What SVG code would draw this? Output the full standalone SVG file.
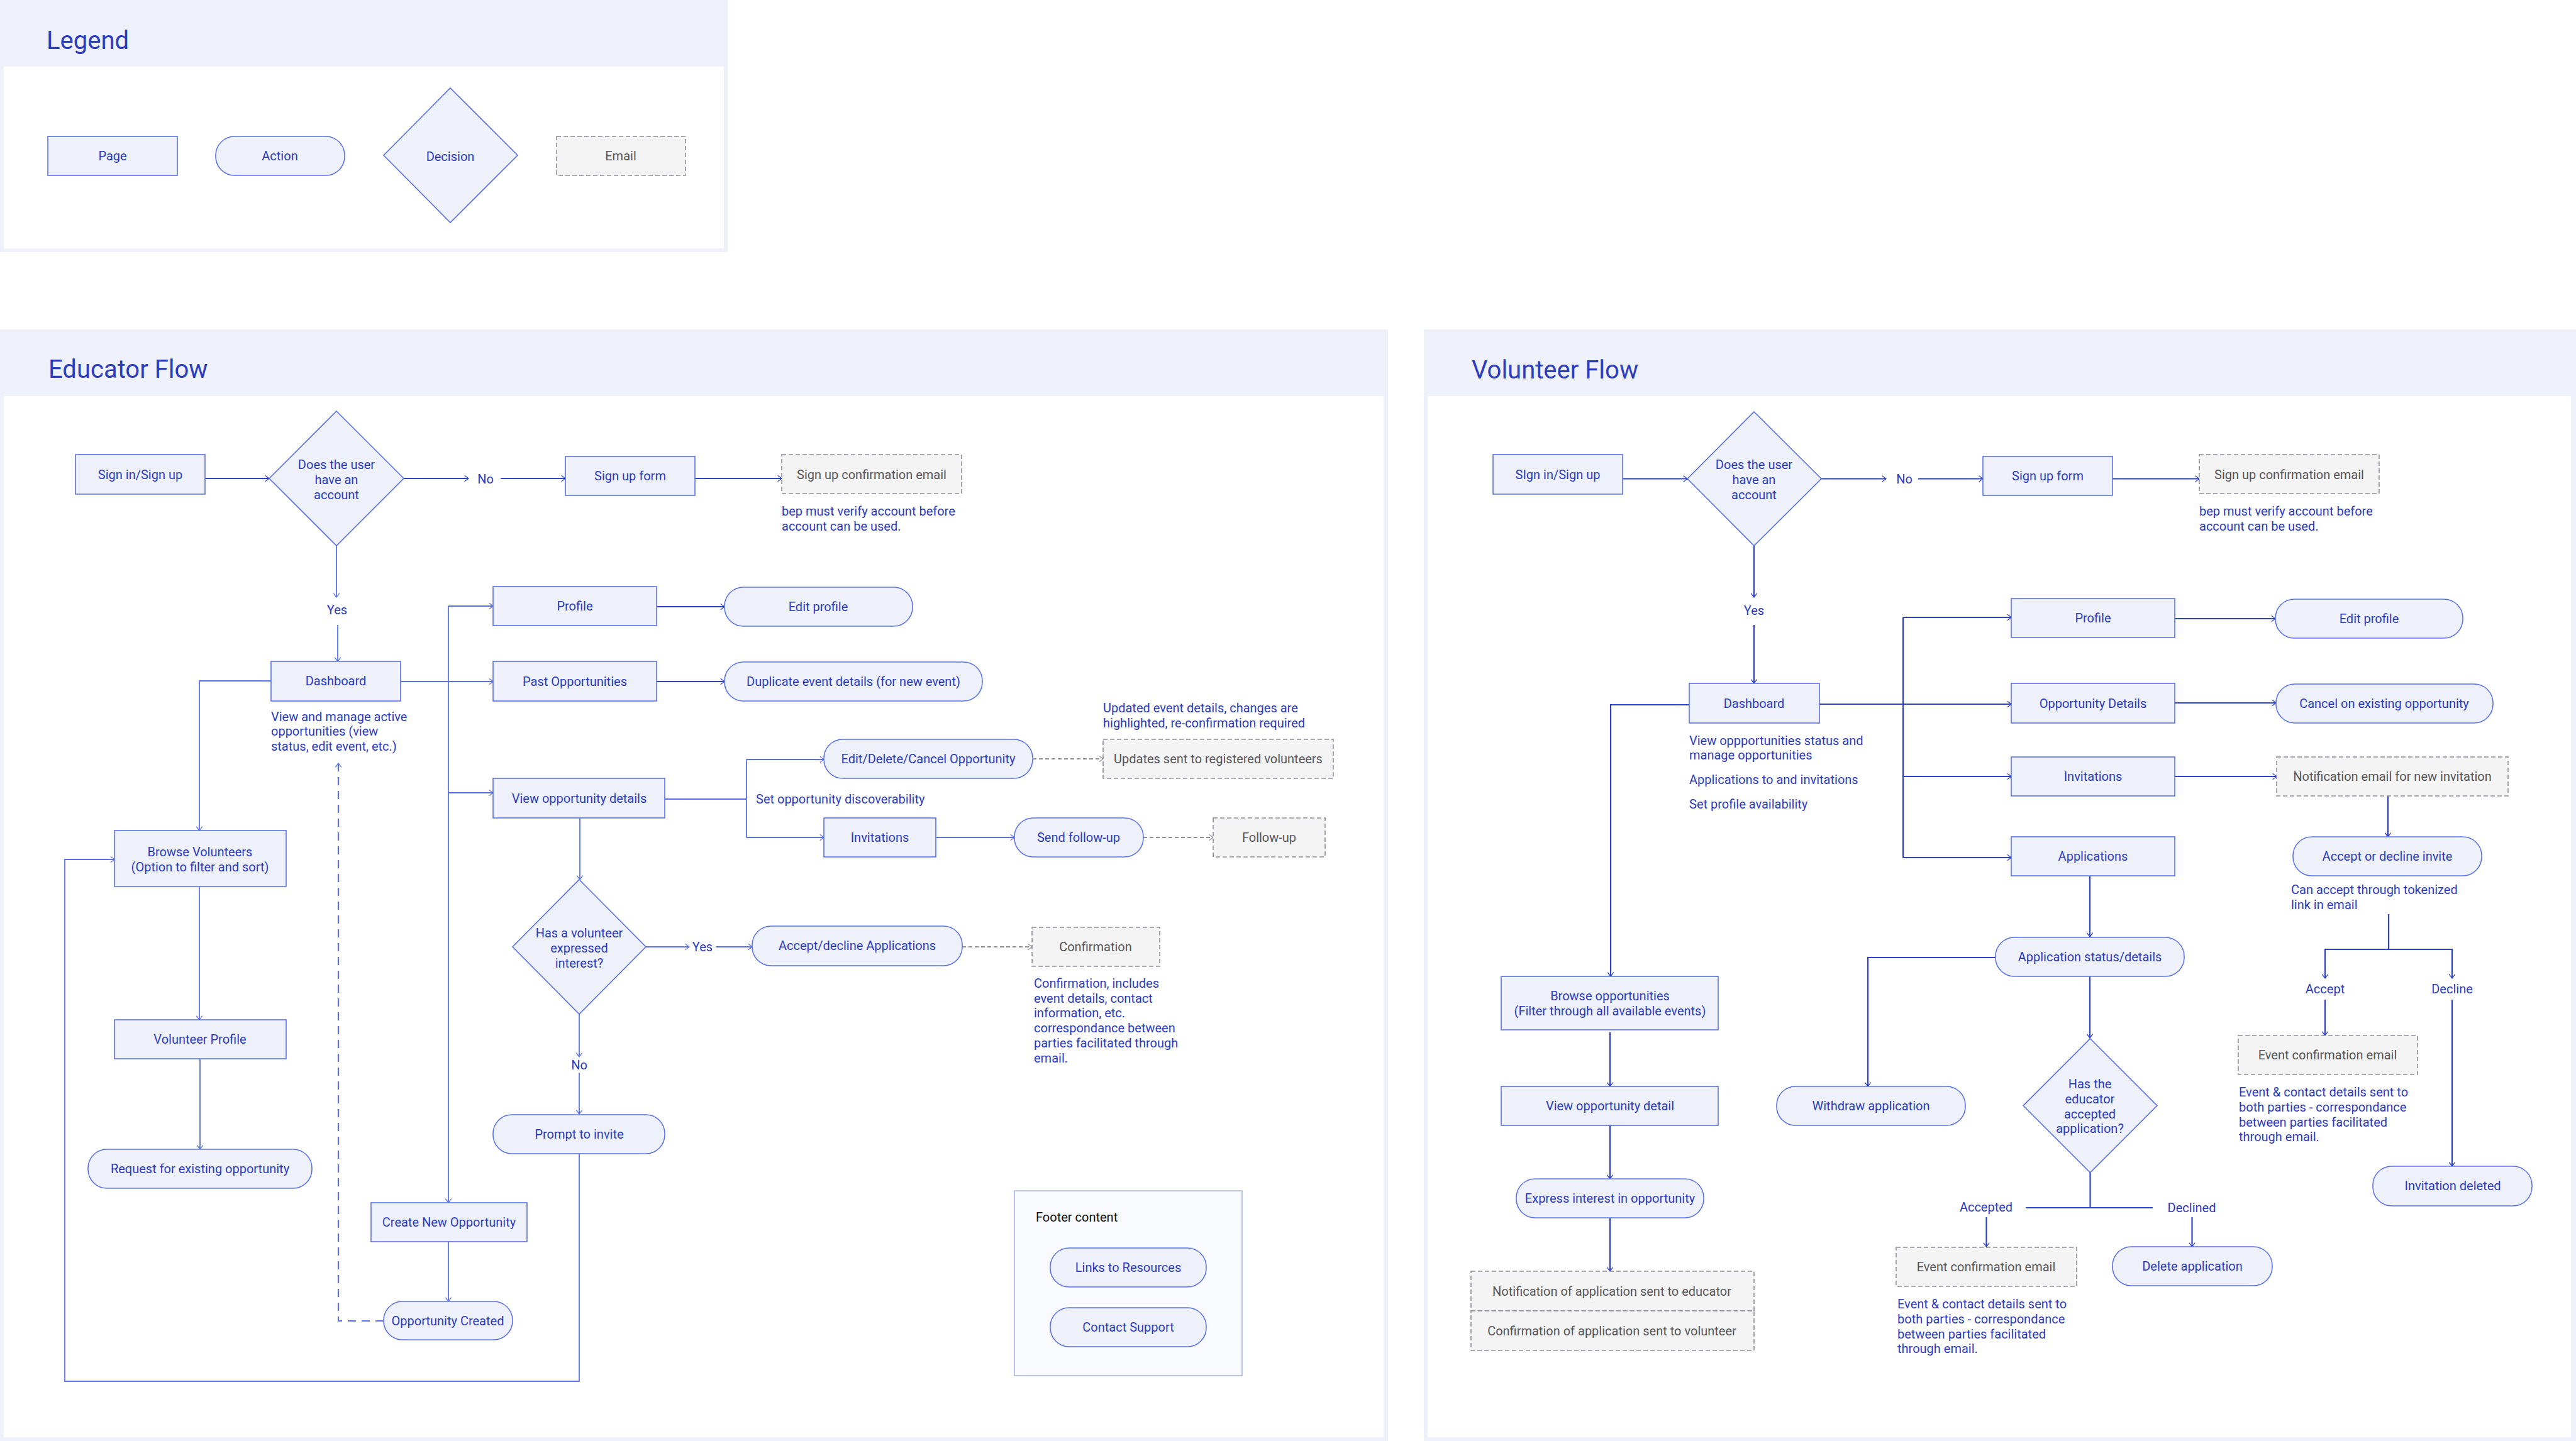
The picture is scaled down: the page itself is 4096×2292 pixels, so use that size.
<svg xmlns="http://www.w3.org/2000/svg" width="4096" height="2292" viewBox="0 0 4096 2292">
<style>
.bg{fill:#EEF1FA}
.in{fill:#FFFFFF}
.pg{fill:#EEF1FA;stroke:#5A72E6;stroke-width:1.6}
.ac{fill:#EEF1FA;stroke:#5A72E6;stroke-width:1.6}
.em{fill:#F4F4F5;stroke:#8E8E99;stroke-width:1.6;stroke-dasharray:7 4}
.ft{fill:#F9FAFE;stroke:#A8B6DF;stroke-width:1.6}
text{font-family:Roboto,"Liberation Sans",sans-serif;font-size:20px;fill:#2B3BC0}
.t{text-anchor:middle;dominant-baseline:central}
.g{fill:#555558}
.k{fill:#111111}
.h{font-size:40px;fill:#2C3CBE}
.c{fill:none;stroke:#5A70E6;stroke-width:1.8}
.cd{fill:none;stroke:#2F41C6;stroke-width:2.2}
.cg{fill:none;stroke:#8E8E99;stroke-width:1.8;stroke-dasharray:6 4}
.cb{fill:none;stroke:#5A70E6;stroke-width:2.2;stroke-dasharray:13 9}
</style>
<defs>
<marker id="al" viewBox="0 0 10 14" markerWidth="8" markerHeight="11" refX="9" refY="7" orient="auto" markerUnits="userSpaceOnUse"><path d="M1,1 L9,7 L1,13" fill="none" stroke="#5A70E6" stroke-width="1.6"/></marker>
<marker id="ad" viewBox="0 0 10 14" markerWidth="8" markerHeight="11" refX="9" refY="7" orient="auto" markerUnits="userSpaceOnUse"><path d="M1,1 L9,7 L1,13" fill="none" stroke="#2F41C6" stroke-width="1.6"/></marker>
<marker id="ag" viewBox="0 0 10 14" markerWidth="8" markerHeight="11" refX="9" refY="7" orient="auto" markerUnits="userSpaceOnUse"><path d="M1,1 L9,7 L1,13" fill="none" stroke="#8E8E99" stroke-width="1.6"/></marker>
</defs>

<!-- Panels -->
<g id="legend-panel">
<rect class="bg" x="0" y="0" width="1157" height="401"/>
<rect class="in" x="6" y="106" width="1145" height="289"/>
<text class="h" x="74" y="78">Legend</text>
</g>
<g id="educator-panel">
<rect class="bg" x="0" y="524" width="2207" height="1768"/>
<rect class="in" x="6" y="630" width="2194" height="1656"/>
<text class="h" x="77" y="601">Educator Flow</text>
</g>
<g id="volunteer-panel">
<rect class="bg" x="2264" y="524" width="1832" height="1768"/>
<rect class="in" x="2270" y="630" width="1818" height="1656"/>
<text class="h" x="2340" y="602">Volunteer Flow</text>
</g>

<!-- Legend -->
<g id="legend-page"><rect class="pg" x="76" y="217" width="206" height="62"/><text class="t" x="179" y="248">Page</text></g>
<g id="legend-action"><rect class="ac" x="343" y="217" width="205" height="62" rx="30"/><text class="t" x="445" y="248">Action</text></g>
<g id="legend-decision"><polygon class="pg" points="716,140 823,247 716,354 610,247"/><text class="t" x="716" y="249">Decision</text></g>
<g id="legend-email"><rect class="em" x="885" y="217" width="205" height="62"/><text class="t g" x="987" y="248">Email</text></g>

<!-- Connectors -->
<g id="connectors">
<!-- educator -->
<path class="cd" d="M326,761 H428" marker-end="url(#ad)"/>
<path class="cd" d="M642,761 H745" marker-end="url(#ad)"/>
<path class="cd" d="M796,761 H899" marker-end="url(#ad)"/>
<path class="cd" d="M1105,761 H1243" marker-end="url(#ad)"/>
<path class="c" d="M535,868 V950" marker-end="url(#al)"/>
<path class="c" d="M537,994 V1052" marker-end="url(#al)"/>
<path class="c" d="M637,1084 H784" marker-end="url(#al)"/>
<path class="c" d="M713,964 V1913" marker-end="url(#al)"/>
<path class="c" d="M713,964 H784" marker-end="url(#al)"/>
<path class="c" d="M713,1261 H784" marker-end="url(#al)"/>
<path class="cd" d="M1044,965 H1152" marker-end="url(#ad)"/>
<path class="cd" d="M1044,1084 H1152" marker-end="url(#ad)"/>
<path class="c" d="M1057,1271 H1187"/>
<path class="c" d="M1187,1208 V1332"/>
<path class="c" d="M1187,1208 H1310" marker-end="url(#al)"/>
<path class="c" d="M1187,1332 H1310" marker-end="url(#al)"/>
<path class="cg" d="M1642,1207 H1754" marker-end="url(#ag)"/>
<path class="c" d="M1488,1332 H1613" marker-end="url(#al)"/>
<path class="cg" d="M1818,1332 H1929" marker-end="url(#ag)"/>
<path class="c" d="M922,1301 V1399" marker-end="url(#al)"/>
<path class="c" d="M1027,1506 H1096" marker-end="url(#al)"/>
<path class="c" d="M1138,1506 H1196" marker-end="url(#al)"/>
<path class="cg" d="M1530,1506 H1641" marker-end="url(#ag)"/>
<path class="c" d="M921,1613 V1681" marker-end="url(#al)"/>
<path class="c" d="M921,1706 V1772" marker-end="url(#al)"/>
<path class="c" d="M921,1835 V2197 H103 V1367 H182" marker-end="url(#al)"/>
<path class="c" d="M431,1083 H317 V1321" marker-end="url(#al)"/>
<path class="c" d="M317,1410 V1622" marker-end="url(#al)"/>
<path class="c" d="M318,1684 V1828" marker-end="url(#al)"/>
<path class="c" d="M713,1975 V2070" marker-end="url(#al)"/>
<path class="cb" d="M610,2101 H538 V1214" marker-end="url(#al)"/>
<!-- volunteer -->
<path class="cd" d="M2580,761.5 H2683" marker-end="url(#ad)"/>
<path class="cd" d="M2896,761.5 H2999" marker-end="url(#ad)"/>
<path class="cd" d="M3050,761.5 H3153" marker-end="url(#ad)"/>
<path class="cd" d="M3359,761.5 H3497" marker-end="url(#ad)"/>
<path class="cd" d="M2789,868 V950" marker-end="url(#ad)"/>
<path class="cd" d="M2789,994 V1087" marker-end="url(#ad)"/>
<path class="cd" d="M2893,1120 H3198" marker-end="url(#ad)"/>
<path class="cd" d="M3026,982 V1364"/>
<path class="cd" d="M3026,982 H3198" marker-end="url(#ad)"/>
<path class="cd" d="M3026,1235 H3198" marker-end="url(#ad)"/>
<path class="cd" d="M3026,1364 H3198" marker-end="url(#ad)"/>
<path class="cd" d="M3458,984 H3618" marker-end="url(#ad)"/>
<path class="cd" d="M3458,1118 H3619" marker-end="url(#ad)"/>
<path class="cd" d="M3458,1235 H3620" marker-end="url(#ad)"/>
<path class="cd" d="M3797,1266 V1331" marker-end="url(#ad)"/>
<path class="cd" d="M3323,1393 V1490" marker-end="url(#ad)"/>
<path class="cd" d="M3323,1553 V1651" marker-end="url(#ad)"/>
<path class="cd" d="M3173,1523 H2970 V1728" marker-end="url(#ad)"/>
<path class="cd" d="M3323.5,1865 V1921"/>
<path class="cd" d="M3221,1921 H3423"/>
<path class="cd" d="M3158.5,1936 V1983" marker-end="url(#ad)"/>
<path class="cd" d="M3485.5,1936 V1983" marker-end="url(#ad)"/>
<path class="cd" d="M3798,1454 V1510"/>
<path class="cd" d="M3798,1510 H3697 V1556" marker-end="url(#ad)"/>
<path class="cd" d="M3798,1510 H3899 V1556" marker-end="url(#ad)"/>
<path class="cd" d="M3697,1590 V1647" marker-end="url(#ad)"/>
<path class="cd" d="M3899,1590 V1855" marker-end="url(#ad)"/>
<path class="cd" d="M2686,1121 H2561 V1553" marker-end="url(#ad)"/>
<path class="cd" d="M2560,1642 V1728" marker-end="url(#ad)"/>
<path class="cd" d="M2560,1790 V1875" marker-end="url(#ad)"/>
<path class="cd" d="M2560,1937 V2022" marker-end="url(#ad)"/>
</g>

<!-- Educator nodes -->
<g id="e-signin"><rect class="pg" x="120" y="723" width="206" height="63"/><text class="t" x="223" y="755">Sign in/Sign up</text></g>
<g id="e-hasaccount"><polygon class="pg" points="535,654 642,761 535,868 428,761"/><text class="t" x="535" y="739">Does the user</text><text class="t" x="535" y="763">have an</text><text class="t" x="535" y="787">account</text></g>
<g id="e-no"><text class="t" x="772" y="762">No</text></g>
<g id="e-signupform"><rect class="pg" x="899" y="726" width="206" height="62"/><text class="t" x="1002" y="757">Sign up form</text></g>
<g id="e-signupemail"><rect class="em" x="1243" y="723" width="286" height="62"/><text class="t g" x="1386" y="755">Sign up confirmation email</text></g>
<g id="e-verifynote"><text x="1243" y="820">bep must verify account before</text><text x="1243" y="844">account can be used.</text></g>
<g id="e-yes"><text class="t" x="536" y="970">Yes</text></g>
<g id="e-dashboard"><rect class="pg" x="431" y="1052" width="206" height="63"/><text class="t" x="534" y="1083">Dashboard</text></g>
<g id="e-dashnote"><text x="431" y="1147">View and manage active</text><text x="431" y="1170">opportunities (view</text><text x="431" y="1194">status, edit event, etc.)</text></g>
<g id="e-profile"><rect class="pg" x="784" y="933" width="260" height="62"/><text class="t" x="914" y="964">Profile</text></g>
<g id="e-pastopp"><rect class="pg" x="784" y="1052" width="260" height="63"/><text class="t" x="914" y="1084">Past Opportunities</text></g>
<g id="e-editprofile"><rect class="ac" x="1152" y="934" width="299" height="62" rx="30"/><text class="t" x="1301" y="965">Edit profile</text></g>
<g id="e-duplicate"><rect class="ac" x="1152" y="1053" width="410" height="62" rx="30"/><text class="t" x="1357" y="1084">Duplicate event details (for new event)</text></g>
<g id="e-updatednote"><text x="1754" y="1133">Updated event details, changes are</text><text x="1754" y="1157">highlighted, re-confirmation required</text></g>
<g id="e-editdelete"><rect class="ac" x="1310" y="1176" width="332" height="62" rx="30"/><text class="t" x="1476" y="1207">Edit/Delete/Cancel Opportunity</text></g>
<g id="e-updates"><rect class="em" x="1754" y="1176" width="366" height="62"/><text class="t g" x="1937" y="1207">Updates sent to registered volunteers</text></g>
<g id="e-viewopp"><rect class="pg" x="784" y="1238" width="273" height="63"/><text class="t" x="921" y="1270">View opportunity details</text></g>
<g id="e-discover"><text x="1202" y="1271" dominant-baseline="central">Set opportunity discoverability</text></g>
<g id="e-invitations"><rect class="pg" x="1310" y="1301" width="178" height="62"/><text class="t" x="1399" y="1332">Invitations</text></g>
<g id="e-sendfollow"><rect class="ac" x="1613" y="1301" width="205" height="62" rx="30"/><text class="t" x="1715" y="1332">Send follow-up</text></g>
<g id="e-followup"><rect class="em" x="1929" y="1301" width="178" height="62"/><text class="t g" x="2018" y="1332">Follow-up</text></g>
<g id="e-interest"><polygon class="pg" points="921,1399 1027,1506 921,1613 815,1506"/><text class="t" x="921" y="1484">Has a volunteer</text><text class="t" x="921" y="1508">expressed</text><text class="t" x="921" y="1532">interest?</text></g>
<g id="e-yes2"><text class="t" x="1117" y="1506">Yes</text></g>
<g id="e-acceptdecline"><rect class="ac" x="1196" y="1473" width="334" height="63" rx="30"/><text class="t" x="1363" y="1504">Accept/decline Applications</text></g>
<g id="e-confirmation"><rect class="em" x="1641" y="1475" width="203" height="62"/><text class="t g" x="1742" y="1506">Confirmation</text></g>
<g id="e-confnote"><text x="1644" y="1571">Confirmation, includes</text><text x="1644" y="1595">event details, contact</text><text x="1644" y="1618">information, etc.</text><text x="1644" y="1642">correspondance between</text><text x="1644" y="1666">parties facilitated through</text><text x="1644" y="1690">email.</text></g>
<g id="e-no2"><text class="t" x="921" y="1694">No</text></g>
<g id="e-prompt"><rect class="ac" x="784" y="1773" width="273" height="62" rx="30"/><text class="t" x="921" y="1804">Prompt to invite</text></g>
<g id="e-browsevol"><rect class="pg" x="182" y="1321" width="273" height="89"/><text class="t" x="318" y="1355">Browse Volunteers</text><text class="t" x="318" y="1379">(Option to filter and sort)</text></g>
<g id="e-volprofile"><rect class="pg" x="182" y="1622" width="273" height="62"/><text class="t" x="318" y="1653">Volunteer Profile</text></g>
<g id="e-request"><rect class="ac" x="140" y="1828" width="356" height="62" rx="30"/><text class="t" x="318" y="1859">Request for existing opportunity</text></g>
<g id="e-createnew"><rect class="pg" x="590" y="1913" width="248" height="62"/><text class="t" x="714" y="1944">Create New Opportunity</text></g>
<g id="e-oppcreated"><rect class="ac" x="610" y="2070" width="205" height="61" rx="30"/><text class="t" x="712" y="2101">Opportunity Created</text></g>
<g id="e-footer"><rect class="ft" x="1613" y="1894" width="362" height="294"/><text class="k" x="1647" y="1936" dominant-baseline="central">Footer content</text></g>
<g id="e-links"><rect class="ac" x="1670" y="1985" width="248" height="62" rx="30"/><text class="t" x="1794" y="2016">Links to Resources</text></g>
<g id="e-contact"><rect class="ac" x="1670" y="2080" width="248" height="62" rx="30"/><text class="t" x="1794" y="2111">Contact Support</text></g>

<!-- Volunteer nodes -->
<g id="v-signin"><rect class="pg" x="2374" y="723" width="206" height="63"/><text class="t" x="2477" y="755">SIgn in/Sign up</text></g>
<g id="v-hasaccount"><polygon class="pg" points="2789,655 2896,761.5 2789,868 2683,761.5"/><text class="t" x="2789" y="739">Does the user</text><text class="t" x="2789" y="763">have an</text><text class="t" x="2789" y="787">account</text></g>
<g id="v-no"><text class="t" x="3028" y="762">No</text></g>
<g id="v-signupform"><rect class="pg" x="3153" y="726" width="206" height="62"/><text class="t" x="3256" y="757">Sign up form</text></g>
<g id="v-signupemail"><rect class="em" x="3497" y="723" width="286" height="62"/><text class="t g" x="3640" y="755">Sign up confirmation email</text></g>
<g id="v-verifynote"><text x="3497" y="820">bep must verify account before</text><text x="3497" y="844">account can be used.</text></g>
<g id="v-yes"><text class="t" x="2789" y="971">Yes</text></g>
<g id="v-dashboard"><rect class="pg" x="2686" y="1087" width="207" height="63"/><text class="t" x="2789" y="1119">Dashboard</text></g>
<g id="v-dashnote"><text x="2686" y="1185">View oppportunities status and</text><text x="2686" y="1208">manage opportunities</text><text x="2686" y="1247">Applications to and invitations</text><text x="2686" y="1286">Set profile availability</text></g>
<g id="v-profile"><rect class="pg" x="3198" y="952" width="260" height="62"/><text class="t" x="3328" y="983">Profile</text></g>
<g id="v-oppdetails"><rect class="pg" x="3198" y="1087" width="260" height="63"/><text class="t" x="3328" y="1119">Opportunity Details</text></g>
<g id="v-invitations"><rect class="pg" x="3198" y="1204" width="260" height="62"/><text class="t" x="3328" y="1235">Invitations</text></g>
<g id="v-applications"><rect class="pg" x="3198" y="1331" width="260" height="62"/><text class="t" x="3328" y="1362">Applications</text></g>
<g id="v-editprofile"><rect class="ac" x="3618" y="953" width="298" height="62" rx="30"/><text class="t" x="3767" y="984">Edit profile</text></g>
<g id="v-cancel"><rect class="ac" x="3619" y="1088" width="345" height="62" rx="30"/><text class="t" x="3791" y="1119">Cancel on existing opportunity</text></g>
<g id="v-notifemail"><rect class="em" x="3620" y="1204" width="368" height="62"/><text class="t g" x="3804" y="1235">Notification email for new invitation</text></g>
<g id="v-acceptinvite"><rect class="ac" x="3646" y="1331" width="300" height="62" rx="30"/><text class="t" x="3796" y="1362">Accept or decline invite</text></g>
<g id="v-tokennote"><text x="3643" y="1422">Can accept through tokenized</text><text x="3643" y="1446">link in email</text></g>
<g id="v-accept"><text class="t" x="3697" y="1573">Accept</text></g>
<g id="v-decline"><text class="t" x="3899" y="1573">Decline</text></g>
<g id="v-eventemail1"><rect class="em" x="3559" y="1647" width="285" height="62"/><text class="t g" x="3701" y="1678">Event confirmation email</text></g>
<g id="v-eventnote1"><text x="3560" y="1744">Event &amp; contact details sent to</text><text x="3560" y="1768">both parties - correspondance</text><text x="3560" y="1792">between parties facilitated</text><text x="3560" y="1815">through email.</text></g>
<g id="v-invdeleted"><rect class="ac" x="3773" y="1855" width="253" height="63" rx="30"/><text class="t" x="3900" y="1886">Invitation deleted</text></g>
<g id="v-appstatus"><rect class="ac" x="3173" y="1491" width="300" height="62" rx="30"/><text class="t" x="3323" y="1522">Application status/details</text></g>
<g id="v-educatoraccepted"><polygon class="pg" points="3323.5,1652 3430,1758.6 3323.5,1865 3217,1758.6"/><text class="t" x="3323" y="1724">Has the</text><text class="t" x="3323" y="1748">educator</text><text class="t" x="3323" y="1772">accepted</text><text class="t" x="3323" y="1795">application?</text></g>
<g id="v-withdraw"><rect class="ac" x="2825" y="1728" width="300" height="62" rx="30"/><text class="t" x="2975" y="1759">Withdraw application</text></g>
<g id="v-accepted"><text class="t" x="3158" y="1920">Accepted</text></g>
<g id="v-declined"><text class="t" x="3485" y="1921">Declined</text></g>
<g id="v-eventemail2"><rect class="em" x="3015" y="1984" width="287" height="62"/><text class="t g" x="3158" y="2015">Event confirmation email</text></g>
<g id="v-eventnote2"><text x="3017" y="2081">Event &amp; contact details sent to</text><text x="3017" y="2105">both parties - correspondance</text><text x="3017" y="2129">between parties facilitated</text><text x="3017" y="2152">through email.</text></g>
<g id="v-delete"><rect class="ac" x="3359" y="1983" width="254" height="62" rx="30"/><text class="t" x="3486" y="2014">Delete application</text></g>
<g id="v-browse"><rect class="pg" x="2387" y="1553" width="345" height="85"/><text class="t" x="2560" y="1584">Browse opportunities</text><text class="t" x="2560" y="1608">(Filter through all available events)</text></g>
<g id="v-viewdetail"><rect class="pg" x="2387" y="1728" width="345" height="62"/><text class="t" x="2560" y="1759">View opportunity detail</text></g>
<g id="v-express"><rect class="ac" x="2411" y="1875" width="298" height="62" rx="30"/><text class="t" x="2560" y="1906">Express interest in opportunity</text></g>
<g id="v-notifeducator"><rect class="em" x="2339" y="2022" width="450" height="63"/><text class="t g" x="2563" y="2054">Notification of application sent to educator</text></g>
<g id="v-confvolunteer"><rect class="em" x="2339" y="2085" width="450" height="63"/><text class="t g" x="2563" y="2117">Confirmation of application sent to volunteer</text></g>
</svg>
